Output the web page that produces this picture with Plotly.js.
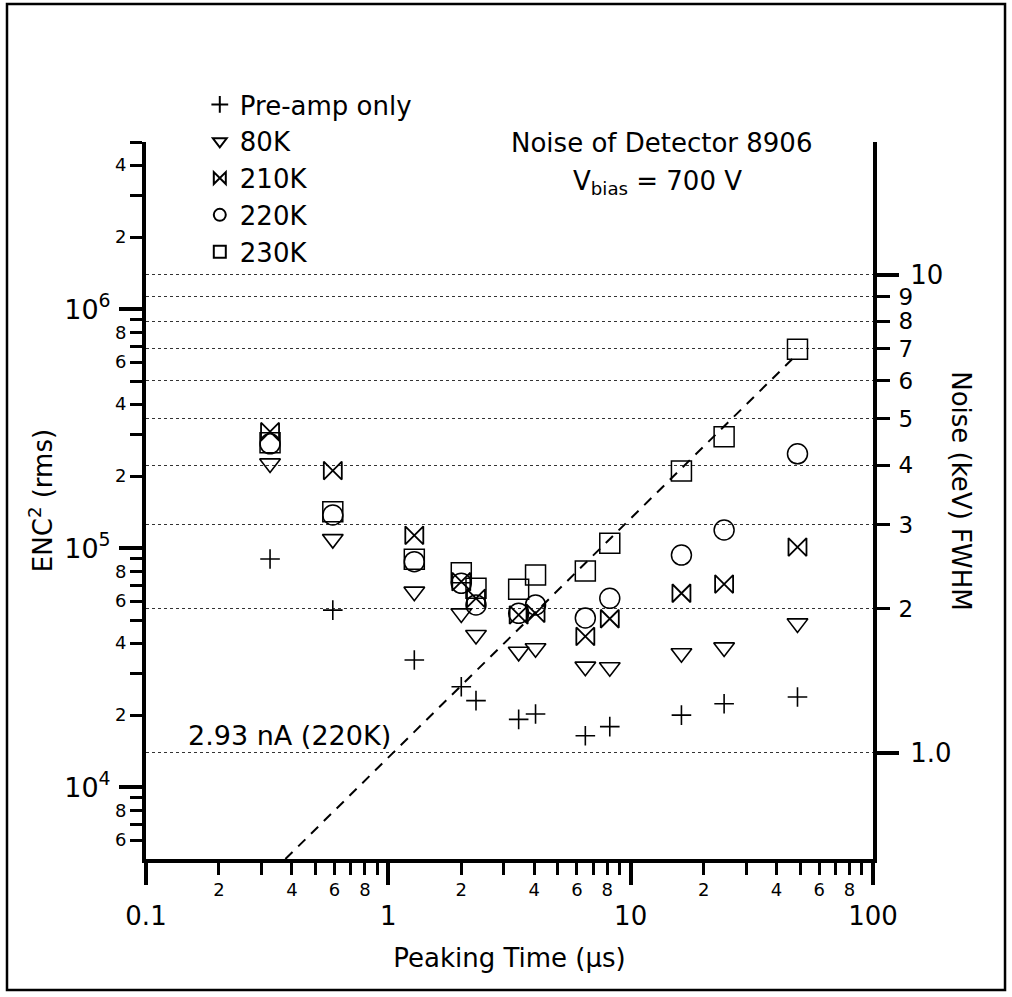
<!DOCTYPE html>
<html>
<head>
<meta charset="utf-8">
<script src="https://cdn.plot.ly/plotly-3.0.1.min.js"></script>
<style>
  html, body { margin: 0; padding: 0; background: #fff; }
  #chart { width: 1012px; height: 997px; }
</style>
</head>
<body>
<div id="chart"></div>
<script>
// ---------------- data ----------------
const peakingTime = [0.325, 0.59, 1.28, 2.0, 2.3, 3.45, 4.05, 6.5, 8.2, 16.2, 24.3, 48.8];
const preAmpOnly = [9.0e4, 5.5e4, 3.4e4, 2.63e4, 2.3e4, 1.92e4, 2.02e4, 1.64e4, 1.79e4, 2.0e4, 2.23e4, 2.38e4];
const enc80K  = [2.26e5, 1.09e5, 6.57e4, 5.33e4, 4.33e4, 3.68e4, 3.81e4, 3.19e4, 3.17e4, 3.63e4, 3.84e4, 4.84e4];
const enc210K = [3.07e5, 2.11e5, 1.13e5, 7.23e4, 6.16e4, 5.25e4, 5.33e4, 4.27e4, 5.06e4, 6.47e4, 7.07e4, 1.01e5];
const enc220K = [2.73e5, 1.375e5, 8.77e4, 7.12e4, 5.78e4, 5.33e4, 5.78e4, 5.10e4, 6.16e4, 9.35e4, 1.19e5, 2.48e5];
const enc230K = [2.76e5, 1.42e5, 8.98e4, 7.89e4, 6.79e4, 6.72e4, 7.72e4, 8.02e4, 1.047e5, 2.10e5, 2.92e5, 6.79e5];
const seriesNames = ['Pre-amp only', '80K', '210K', '220K', '230K'];

// leakage-current noise line (ENC^2 proportional to peaking time)
const currentLineTime = [0.376, 47];
const currentLineEnc2 = [5000, 6.25e5];
const currentLabel = '2.93 nA (220K)';

// axes
const xRange = [0.1, 100];
const yRange = [5000, 5e6];
const enc2PerKeV2 = 13900;              // ENC^2 corresponding to 1 keV FWHM
const xMajorVals = [0.1, 1, 10, 100];
const xMajorText = ['0.1', '1', '10', '100'];
const xMinorVals = [0.2,0.3,0.4,0.5,0.6,0.7,0.8,0.9, 2,3,4,5,6,7,8,9, 20,30,40,50,60,70,80,90];
const xMinorLabVals = [0.2,0.4,0.6,0.8, 2,4,6,8, 20,40,60,80];
const xMinorLabText = ['2','4','6','8','2','4','6','8','2','4','6','8'];
const yMajorVals = [1e4, 1e5, 1e6];
const yMajorText = ['10<sup>4</sup>', '10<sup>5</sup>', '10<sup>6</sup>'];
const yMinorVals = [6e3,7e3,8e3,9e3, 2e4,3e4,4e4,5e4,6e4,7e4,8e4,9e4, 2e5,3e5,4e5,5e5,6e5,7e5,8e5,9e5, 2e6,3e6,4e6,5e6];
const yMinorLabVals = [6e3, 8e3, 2e4, 4e4, 6e4, 8e4, 2e5, 4e5, 6e5, 8e5, 2e6, 4e6];
const yMinorLabText = ['6','8','2','4','6','8','2','4','6','8','2','4'];
const keVMajorVals = [1, 10];
const keVMajorText = ['1.0', '10'];
const keVMinorVals = [2, 3, 4, 5, 6, 7, 8, 9];
const keVMinorText = ['2','3','4','5','6','7','8','9'];

// ---------------- chart ----------------
const FONT = 'DejaVu Sans, Liberation Sans, Arial, sans-serif';
const markerLine = w => ({ color: '#000', width: w });

const traces = [
  { x: peakingTime, y: preAmpOnly, name: seriesNames[0], type: 'scatter', mode: 'markers',
    marker: { symbol: 'cross-thin-open', size: 14, color: '#000', line: markerLine(1.6) } },
  { x: peakingTime, y: enc80K, name: seriesNames[1], type: 'scatter', mode: 'markers',
    marker: { symbol: 'triangle-down-open', size: 18, color: '#000', line: markerLine(1.6) } },
  { x: peakingTime, y: enc210K, name: seriesNames[2], type: 'scatter', mode: 'markers',
    marker: { symbol: 'bowtie-open', size: 18, color: '#000', line: markerLine(1.8) } },
  { x: peakingTime, y: enc220K, name: seriesNames[3], type: 'scatter', mode: 'markers',
    marker: { symbol: 'circle-open', size: 20, color: '#000', line: markerLine(1.5) } },
  { x: peakingTime, y: enc230K, name: seriesNames[4], type: 'scatter', mode: 'markers',
    marker: { symbol: 'square-open', size: 20, color: '#000', line: markerLine(1.5) } },
  { x: currentLineTime, y: currentLineEnc2, type: 'scatter', mode: 'lines', showlegend: false,
    line: { color: '#000', width: 2, dash: '10px,8px' }, hoverinfo: 'skip' },
  // empty carriers so that the extra tick-label axes are drawn
  { x: [], y: [], xaxis: 'x2', yaxis: 'y', type: 'scatter', mode: 'markers', showlegend: false },
  { x: [], y: [], xaxis: 'x', yaxis: 'y2', type: 'scatter', mode: 'markers', showlegend: false },
  { x: [], y: [], xaxis: 'x', yaxis: 'y3', type: 'scatter', mode: 'markers', showlegend: false },
  { x: [], y: [], xaxis: 'x', yaxis: 'y4', type: 'scatter', mode: 'markers', showlegend: false }
];

const log10 = Math.log10;
const yLogRange = [log10(yRange[0]), log10(yRange[1])];
const keVLogRange = yLogRange.map(v => (v - log10(enc2PerKeV2)) / 2);
const xLogRange = [log10(xRange[0]), log10(xRange[1])];

const gridStyle = { showgrid: true, gridcolor: '#333', gridwidth: 1, griddash: 'dot' };

const layout = {
  width: 1012, height: 997,
  margin: { l: 146, r: 139, t: 142, b: 138 },
  paper_bgcolor: '#fff', plot_bgcolor: '#fff',
  font: { family: FONT, color: '#000', size: 24 },
  showlegend: true,
  legend: {
    x: 0.074, y: 1.085, xanchor: 'left', yanchor: 'top',
    font: { family: FONT, size: 26, color: '#000' },
    bgcolor: 'rgba(0,0,0,0)', borderwidth: 0, itemsizing: 'constant', itemwidth: 30
  },
  xaxis: {
    type: 'log', range: xLogRange, showline: true, linewidth: 4, linecolor: '#000',
    ticks: 'outside', tickmode: 'array', tickvals: xMajorVals, ticktext: xMajorText,
    ticklen: 22, tickwidth: 4, tickcolor: '#000', tickfont: { size: 26 },
    ticklabelstandoff: 9,
    showgrid: false, zeroline: false,
    minor: { tickmode: 'array', tickvals: xMinorVals, ticks: 'outside', ticklen: 12, tickwidth: 3, tickcolor: '#000', showgrid: false },
    title: { text: 'Peaking Time (µs)', font: { size: 26 }, standoff: 20 }
  },
  xaxis2: {
    type: 'log', range: xLogRange, overlaying: 'x', side: 'bottom', anchor: 'y',
    showline: false, showgrid: false, zeroline: false,
    ticks: 'outside', tickmode: 'array', tickvals: xMinorLabVals, ticktext: xMinorLabText,
    ticklen: 12, tickwidth: 3, tickcolor: '#000', tickfont: { size: 18 }, ticklabelstandoff: 2
  },
  yaxis: {
    type: 'log', range: yLogRange, showline: true, linewidth: 4, linecolor: '#000',
    ticks: 'outside', tickmode: 'array', tickvals: yMajorVals, ticktext: yMajorText,
    ticklen: 23, tickwidth: 4, tickcolor: '#000', tickfont: { size: 27 },
    ticklabelstandoff: 3,
    showgrid: false, zeroline: false,
    minor: { tickmode: 'array', tickvals: yMinorVals, ticks: 'outside', ticklen: 12, tickwidth: 3, tickcolor: '#000', showgrid: false },
    title: { text: 'ENC<sup>2</sup> (rms)', font: { size: 26 }, standoff: 5 }
  },
  yaxis4: {
    type: 'log', range: yLogRange, overlaying: 'y', side: 'left', anchor: 'x',
    showline: false, showgrid: false, zeroline: false,
    ticks: 'outside', tickmode: 'array', tickvals: yMinorLabVals, ticktext: yMinorLabText,
    ticklen: 12, tickwidth: 3, tickcolor: '#000', tickfont: { size: 18 }, ticklabelstandoff: 3
  },
  yaxis2: Object.assign({
    type: 'log', range: keVLogRange, overlaying: 'y', side: 'right', anchor: 'x',
    showline: true, linewidth: 4, linecolor: '#000', zeroline: false,
    ticks: 'outside', tickmode: 'array', tickvals: keVMajorVals, ticktext: keVMajorText,
    ticklen: 22, tickwidth: 4, tickcolor: '#000', tickfont: { size: 26 }, ticklabelstandoff: 6
  }, gridStyle),
  yaxis3: Object.assign({
    type: 'log', range: keVLogRange, overlaying: 'y', side: 'right', anchor: 'x',
    showline: false, zeroline: false,
    ticks: 'outside', tickmode: 'array', tickvals: keVMinorVals, ticktext: keVMinorText,
    ticklen: 16, tickwidth: 3, tickcolor: '#000', tickfont: { size: 23 }, ticklabelstandoff: 4
  }, gridStyle),
  annotations: [
    { text: 'Noise of Detector 8906', xref: 'paper', yref: 'paper', x: 0.7084, y: 0.9986,
      xanchor: 'center', yanchor: 'middle', showarrow: false, font: { size: 26 } },
    { text: 'V<sub>bias</sub> = 700 V', xref: 'paper', yref: 'paper', x: 0.7029, y: 0.944,
      xanchor: 'center', yanchor: 'middle', showarrow: false, font: { size: 26 } },
    { text: currentLabel, xref: 'paper', yref: 'paper', x: 0.3400, y: 0.1729,
      xanchor: 'right', yanchor: 'middle', showarrow: false, font: { size: 27 } },
    { text: 'Noise (keV) FWHM', xref: 'paper', yref: 'paper', x: 1.121, y: 0.513,
      xanchor: 'center', yanchor: 'middle', showarrow: false, textangle: 90, font: { size: 26 } }
  ],
  shapes: [
    { type: 'rect', xref: 'paper', yref: 'paper', x0: -0.1912, x1: 1.1816, y0: -0.1827, y1: 1.1925,
      line: { color: '#000', width: 2.5 }, fillcolor: 'rgba(0,0,0,0)', layer: 'below' }
  ]
};

Plotly.newPlot('chart', traces, layout, { displayModeBar: false, staticPlot: true });
</script>
</body>
</html>
